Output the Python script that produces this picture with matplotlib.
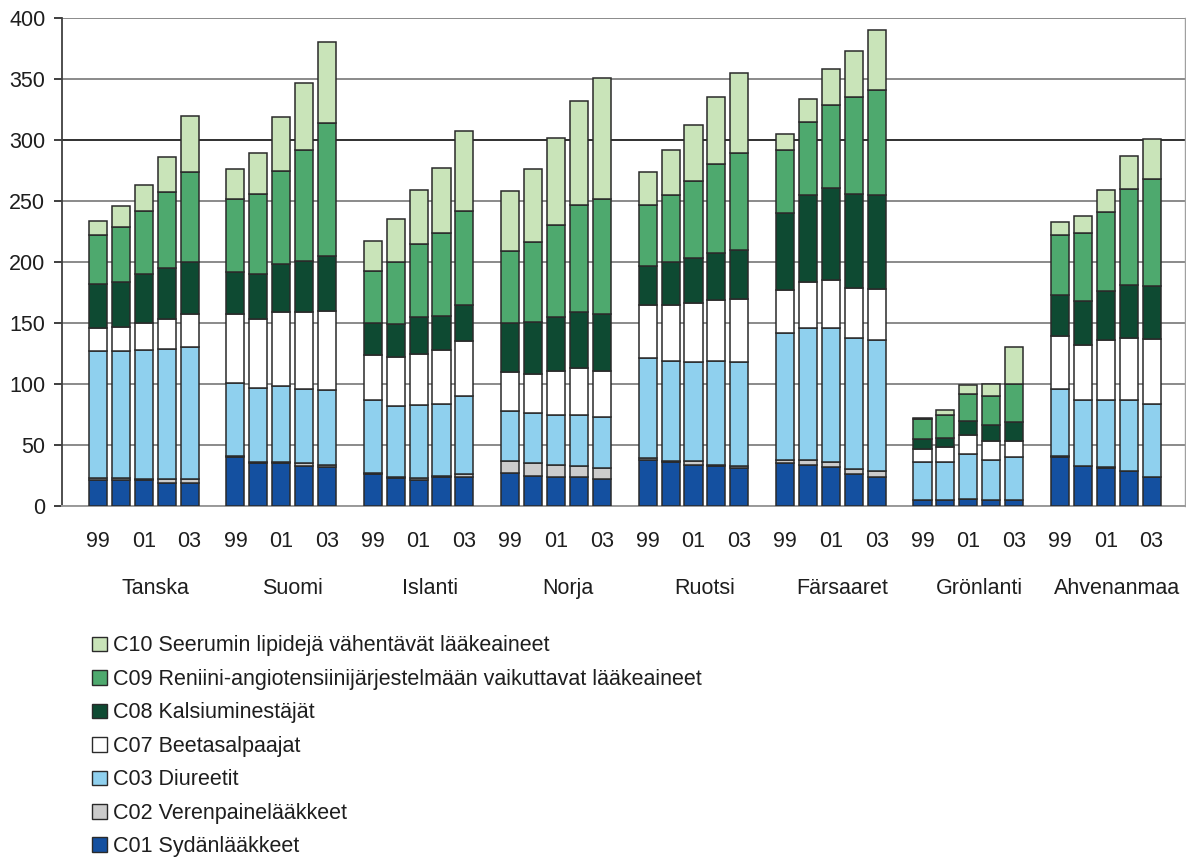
import numpy as np
import matplotlib.pyplot as plt
from matplotlib.patches import Patch
from matplotlib.transforms import blended_transform_factory

plt.rcParams['font.family'] = ['Liberation Sans', 'DejaVu Sans']

countries = ["Tanska", "Suomi", "Islanti", "Norja", "Ruotsi",
             "Färsaaret", "Grönlanti", "Ahvenanmaa"]
years = ["99", "00", "01", "02", "03"]
year_labels = ["99", "", "01", "", "03"]

series_names = ["C01 Sydänlääkkeet",
                "C02 Verenpainelääkkeet",
                "C03 Diureetit",
                "C07 Beetasalpaajat",
                "C08 Kalsiuminestäjät",
                "C09 Reniini-angiotensiinijärjestelmään vaikuttavat lääkeaineet",
                "C10 Seerumin lipidejä vähentävät lääkeaineet"]
colors = ["#1450a0", "#cccccc", "#8fd0ee", "#ffffff", "#0e4a32", "#4ea96e", "#c9e4b9"]

# values per country, 5 years each (99..03)
c01 = [21, 21, 21, 19, 19,  40, 35, 35, 33, 32,  26, 23, 21, 24, 24,  27, 25, 24, 24, 22,
       38, 36, 34, 33, 31,  35, 34, 32, 26, 24,  5, 5, 6, 5, 5,  40, 33, 31, 29, 24]
c02 = [2, 2, 1, 3, 3,  1, 1, 1, 2, 2,  1, 1, 2, 1, 2,  10, 10, 10, 9, 9,
       1, 1, 3, 1, 2,  3, 4, 4, 4, 5,  0, 0, 0, 0, 0,  1, 0, 1, 0, 0]
c03 = [104, 104, 106, 107, 108,  60, 61, 62, 61, 61,  60, 58, 60, 59, 64,  41, 41, 41, 42, 42,
       82, 82, 81, 85, 85,  104, 108, 110, 108, 107,  31, 31, 37, 33, 35,  55, 54, 55, 58, 60]
c07 = [19, 20, 22, 24, 27,  56, 56, 61, 63, 65,  37, 40, 42, 44, 45,  32, 32, 36, 38, 38,
       44, 46, 48, 50, 52,  35, 38, 39, 41, 42,  11, 12, 15, 15, 13,  43, 45, 49, 51, 53]
c08 = [36, 37, 40, 42, 43,  35, 37, 39, 42, 45,  26, 27, 30, 28, 30,  40, 43, 44, 46, 46,
       32, 35, 37, 38, 40,  63, 71, 76, 77, 77,  8, 8, 12, 13, 16,  34, 36, 40, 43, 43]
c09 = [40, 45, 52, 62, 74,  60, 66, 77, 91, 109,  43, 51, 60, 68, 77,  59, 65, 75, 88, 95,
       50, 55, 63, 73, 79,  52, 60, 68, 79, 86,  16, 19, 22, 24, 31,  49, 56, 65, 79, 88]
c10 = [12, 17, 21, 29, 46,  24, 33, 44, 55, 66,  24, 35, 44, 53, 65,  49, 60, 72, 85, 99,
       27, 37, 46, 55, 66,  13, 19, 29, 38, 49,  1, 4, 7, 10, 30,  11, 14, 18, 27, 33]

series = [c01, c02, c03, c07, c08, c09, c10]

# bar positions: 5 bars per country and one empty slot between groups
pos = np.array([g * 6 + j for g in range(len(countries)) for j in range(len(years))])

fig = plt.figure(figsize=(11.86, 8.57), dpi=100)
ax = fig.add_axes([62 / 1186, 1 - 506 / 857, (1185 - 62) / 1186, (506 - 18) / 857])

bottom = np.zeros(len(pos))
for vals, col in zip(series, colors):
    vals = np.array(vals, dtype=float)
    ax.bar(pos, vals, width=0.79, bottom=bottom, color=col,
           edgecolor="#2a2a2a", linewidth=1.1, zorder=3)
    bottom += vals

ax.set_ylim(0, 400)
ax.set_xlim(-1.57, 47.46)
ax.set_yticks(range(0, 401, 50))
ax.yaxis.grid(True, color="#8a8a8a", linewidth=1.4, zorder=0)
ax.get_ygridlines()[6].set_color("#303030")
ax.set_axisbelow(True)

ax.set_xticks(pos)
ax.set_xticklabels(year_labels * len(countries))
ax.tick_params(axis='x', length=0, pad=18, labelsize=15.5, colors="#1e1e1e")
ax.tick_params(axis='y', length=6, width=1.2, pad=6, labelsize=15.5, colors="#1e1e1e")

ax.spines['top'].set_visible(False)
ax.spines['left'].set_color("#404040")
ax.spines['left'].set_linewidth(1.3)
ax.spines['bottom'].set_color("#9a9a9a")
ax.spines['bottom'].set_linewidth(1.4)
ax.spines['right'].set_color("#a0a0a0")
ax.spines['right'].set_linewidth(1.0)

trans = blended_transform_factory(ax.transData, ax.transAxes)
for g, name in enumerate(countries):
    ax.annotate(name, xy=(g * 6 + 2.5, 0), xycoords=trans,
                xytext=(0, -59.5), textcoords='offset points',
                ha='center', va='center', fontsize=15.5, color="#1e1e1e")

handles = [Patch(facecolor=c, edgecolor="#2a2a2a", linewidth=1.0) for c in colors]
fig.legend(handles[::-1], series_names[::-1], loc='upper left',
           bbox_to_anchor=(73 / 1186, 1 - 616 / 857), frameon=False,
           fontsize=15.5, handlelength=0.66, handleheight=0.66,
           handletextpad=0.3, labelspacing=0.58, labelcolor="#1e1e1e")

fig.savefig("out.png", dpi=100)
